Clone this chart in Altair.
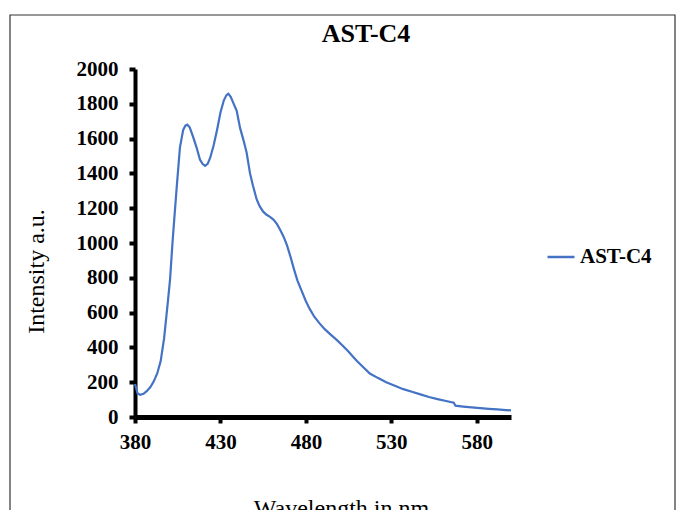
import altair as alt
import pandas as pd

wavelength = [380, 381.5, 383, 385, 387, 389, 391, 393, 395, 397, 399, 400.5, 402, 403, 404.4,
              406.3, 408.2, 409.5, 410.6, 412, 414, 416, 418, 419.5, 421, 422.5, 424, 426, 428,
              430, 432, 433.5, 434.6, 436, 437.5, 439.5, 441.5, 443.5, 445.3, 447.3, 449, 451.2,
              453, 455, 457, 459, 461, 463, 465, 467, 469, 471, 473, 475, 477.5, 480, 482.3, 485,
              488, 491, 494, 498, 502, 505, 507.7, 510, 513, 517.4, 522, 527, 532, 537, 542, 547,
              552, 557, 562, 566.5, 567.5, 572, 577, 582, 587, 592, 597, 600]
intensity = [190, 135, 128, 133, 150, 172, 205, 250, 320, 450, 640, 790, 1010, 1140, 1320,
             1550, 1650, 1675, 1680, 1665, 1610, 1550, 1480, 1455, 1443, 1455, 1490, 1560, 1650,
             1750, 1820, 1850, 1858, 1840, 1805, 1760, 1660, 1590, 1520, 1400, 1330, 1250,
             1210, 1180, 1162, 1150, 1135, 1110, 1075, 1035, 985, 920, 850, 785, 725, 665, 620, 575,
             538, 505, 478, 443, 405, 375, 345, 320, 292, 250, 225, 200, 180, 160, 145, 130,
             115, 103, 92, 82, 65, 60, 55, 51, 47, 44, 40, 38]
series_name = "AST-C4"
x_ticks = [380, 430, 480, 530, 580]
y_ticks = [0, 200, 400, 600, 800, 1000, 1200, 1400, 1600, 1800, 2000]

df = pd.DataFrame({"wavelength": wavelength, "intensity": intensity, "series": series_name})

FONT = "Liberation Serif"

line = alt.Chart(df).mark_line(strokeWidth=2.2).encode(
    x=alt.X("wavelength:Q",
            scale=alt.Scale(domain=[380, 600], nice=False, zero=False),
            axis=alt.Axis(values=x_ticks, format="d", title="Wavelength in nm", grid=False,
                          domainColor="black", domainWidth=5, tickColor="black",
                          tickWidth=4, tickSize=6, labelFlush=False,
                          labelFont=FONT, labelFontWeight="bold", labelFontSize=21,
                          labelColor="black", labelPadding=8,
                          titleFont=FONT, titleFontSize=24, titleFontWeight="normal",
                          titleColor="black", titleX=206, titleY=98,
                          titleBaseline="alphabetic", titleAlign="center")),
    y=alt.Y("intensity:Q",
            scale=alt.Scale(domain=[0, 2000], nice=False),
            axis=alt.Axis(values=y_ticks, format="d", title="Intensity a.u.", grid=False,
                          domainColor="black", domainWidth=4, tickColor="black",
                          tickWidth=4, tickSize=6, labelFlush=False,
                          labelFont=FONT, labelFontWeight="bold", labelFontSize=21,
                          labelColor="black", labelPadding=11,
                          titleFont=FONT, titleFontSize=24, titleFontWeight="normal",
                          titleColor="black", titleX=-92, titleY=202, titleAngle=-90,
                          titleBaseline="alphabetic", titleAlign="center")),
    color=alt.Color("series:N",
                    scale=alt.Scale(domain=[series_name], range=["#4472C4"]),
                    legend=alt.Legend(title=None, orient="none", legendX=411, legendY=173,
                                      symbolType="stroke", symbolSize=729,
                                      symbolStrokeWidth=2.5, labelFont=FONT,
                                      labelFontWeight="bold", labelFontSize=21,
                                      labelColor="black", labelOffset=4)),
)

frame = alt.Chart(pd.DataFrame({"k": [0]})).mark_rect(
    filled=False, stroke="#333333", strokeWidth=1.2
).encode(x=alt.value(-125), x2=alt.value(540), y=alt.value(-54), y2=alt.value(480))

chart = alt.layer(frame, line).properties(
    width=376, height=348,
    padding={"left": 127, "top": 61, "right": 166, "bottom": 93},
    autosize=alt.AutoSizeParams(type="none"),
    title=alt.TitleParams(series_name, font=FONT, fontSize=26, fontWeight="bold",
                          color="black", anchor="middle", frame="group", dx=43,
                          offset=0, dy=54, baseline="alphabetic"),
).configure_view(stroke=None)

chart.save("out.html", embed_options={"renderer": "svg", "actions": False})
